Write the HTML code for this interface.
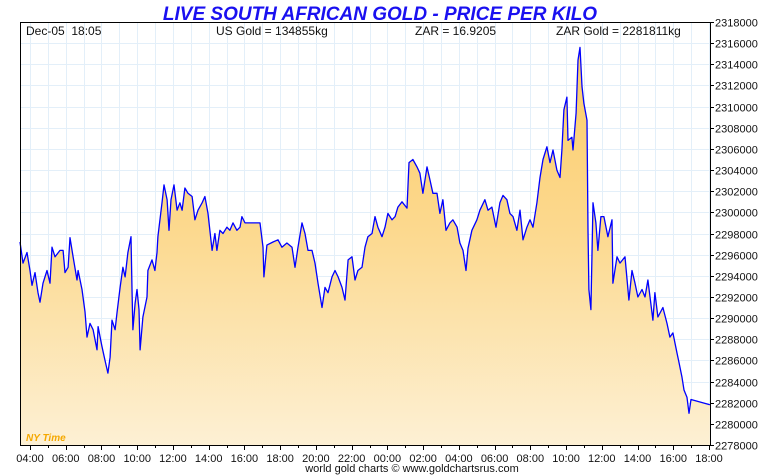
<!DOCTYPE html>
<html><head><meta charset="utf-8"><style>
html,body{margin:0;padding:0;background:#fff;}
svg{display:block;font-family:"Liberation Sans",sans-serif;}
</style></head><body>
<svg id="chart" width="760" height="475" viewBox="0 0 760 475" xmlns="http://www.w3.org/2000/svg">
<defs>
<linearGradient id="fillGrad" gradientUnits="userSpaceOnUse" x1="0" y1="60" x2="0" y2="445">
<stop offset="0" stop-color="#fbcd6c"/>
<stop offset="0.45" stop-color="#fcd98f"/>
<stop offset="1" stop-color="#fdf0d4"/>
</linearGradient>
</defs>
<text x="380" y="20" text-anchor="middle" font-size="19" font-weight="bold" font-style="italic" fill="#1a10f0">LIVE SOUTH AFRICAN GOLD - PRICE PER KILO</text>
<g id="grid"></g>
<path id="area" fill="url(#fillGrad)"/>
<path id="line" fill="none" stroke="#0000ff" stroke-width="1.3" stroke-linejoin="round"/>
<rect x="20.5" y="22.5" width="690" height="423" fill="none" stroke="#000" stroke-width="1"/>
<g id="axes"></g>
<text x="26" y="35" font-size="12" fill="#111">Dec-05&#160;&#160;18:05</text>
<text x="216" y="35" font-size="12" fill="#111">US Gold = 134855kg</text>
<text x="415" y="35" font-size="12" fill="#111">ZAR = 16.9205</text>
<text x="556" y="35" font-size="12" fill="#111">ZAR Gold = 2281811kg</text>
<text x="26" y="441" font-size="10" font-style="italic" font-weight="bold" fill="#f5a800">NY Time</text>
<text x="412" y="472" text-anchor="middle" font-size="11" fill="#111">world gold charts © www.goldchartsrus.com</text>
</svg>
<script>
// hours since 04:00 (day 1)
const hours = [-0.56,-0.39,-0.17,0,0.11,0.28,0.45,0.56,0.73,0.95,1.12,1.23,1.40,1.68,1.85,1.96,2.13,2.24,2.41,2.63,2.69,2.91,3.08,3.19,3.36,3.53,3.75,3.81,4.03,4.20,4.36,4.48,4.59,4.76,4.87,5.04,5.20,5.32,5.48,5.65,5.71,5.76,5.88,5.99,6.10,6.16,6.32,6.55,6.60,6.83,6.99,7.11,7.16,7.39,7.50,7.67,7.78,7.89,8.06,8.23,8.39,8.51,8.67,8.84,9.07,9.23,9.40,9.63,9.79,9.96,10.19,10.35,10.46,10.63,10.80,11.02,11.19,11.36,11.58,11.75,11.86,12.03,12.31,12.59,12.87,13.04,13.09,13.26,13.60,13.88,14.10,14.38,14.66,14.83,15.00,15.22,15.39,15.56,15.78,15.95,16.12,16.34,16.51,16.68,16.90,17.07,17.24,17.46,17.63,17.80,18.02,18.19,18.35,18.58,18.75,18.91,19.14,19.31,19.47,19.70,19.87,20.03,20.26,20.43,20.59,20.82,21.10,21.21,21.43,21.66,21.82,21.99,22.22,22.38,22.55,22.78,22.94,23.11,23.28,23.50,23.67,23.90,24.06,24.23,24.40,24.51,24.73,25.01,25.18,25.46,25.63,25.85,26.08,26.30,26.47,26.69,26.86,27.03,27.25,27.42,27.59,27.81,27.98,28.15,28.37,28.54,28.71,28.93,29.10,29.27,29.49,29.66,29.77,29.88,30.05,30.11,30.33,30.39,30.56,30.67,30.78,30.89,31.00,31.17,31.23,31.28,31.39,31.51,31.67,31.78,31.95,32.12,32.34,32.57,32.62,32.85,33.02,33.30,33.52,33.69,33.86,34.02,34.25,34.42,34.58,34.86,34.97,35.14,35.42,35.65,35.81,35.98,36.21,36.32,36.49,36.60,36.77,36.88,36.99,38.05];
// price in thousands ZAR per kilo
const prices = [2297.2,2295.2,2296.2,2294.5,2293.1,2294.3,2292.4,2291.5,2293.3,2294.5,2293.3,2296.7,2295.8,2296.4,2296.4,2294.3,2294.8,2297.6,2295.8,2293.6,2294.5,2292.7,2290.6,2288.2,2289.5,2288.9,2287.0,2289.2,2287.3,2286.0,2284.8,2286.3,2289.8,2288.9,2290.5,2292.9,2294.8,2293.9,2296.2,2297.7,2292.7,2288.9,2291.4,2292.7,2290.8,2287.0,2290.1,2292.0,2294.5,2295.5,2294.5,2296.2,2297.7,2300.9,2302.6,2301.2,2298.3,2301.2,2302.6,2300.2,2300.9,2300.2,2302.3,2301.8,2301.5,2299.3,2300.2,2300.9,2301.5,2299.9,2296.4,2298.0,2296.4,2298.3,2298.0,2298.6,2298.3,2299.0,2298.3,2298.6,2299.6,2299.0,2299.0,2299.0,2299.0,2296.7,2293.9,2296.9,2297.2,2297.4,2296.7,2297.1,2296.7,2294.8,2296.7,2299.0,2298.0,2296.4,2296.4,2295.2,2293.3,2291.0,2292.9,2292.4,2293.9,2294.5,2293.9,2292.9,2291.7,2295.5,2295.8,2293.6,2294.5,2294.8,2296.7,2297.7,2298.0,2299.6,2298.6,2297.7,2298.6,2299.9,2299.3,2299.6,2300.5,2301.0,2300.4,2304.7,2305.0,2304.3,2303.7,2301.8,2304.3,2303.1,2301.8,2301.8,2299.9,2301.2,2298.3,2299.0,2299.3,2298.6,2297.1,2296.4,2294.5,2296.6,2298.3,2299.3,2300.2,2301.2,2300.2,2300.5,2298.6,2300.9,2301.6,2301.2,2299.9,2299.6,2298.3,2300.2,2297.4,2298.6,2299.3,2298.6,2300.9,2303.3,2305.0,2306.2,2304.7,2305.9,2304.0,2303.3,2305.9,2309.7,2310.9,2306.8,2307.1,2305.9,2309.4,2314.4,2315.6,2311.9,2310.3,2308.7,2298.3,2292.7,2290.8,2300.9,2299.0,2296.4,2299.6,2299.6,2297.7,2299.3,2293.3,2295.8,2295.2,2295.8,2291.7,2294.5,2293.3,2292.0,2292.7,2292.0,2293.6,2289.8,2292.4,2290.1,2291.0,2289.5,2288.2,2288.6,2286.7,2285.8,2284.4,2283.2,2282.5,2281.0,2282.3,2281.8];
const yTickValues = [2278,2280,2282,2284,2286,2288,2290,2292,2294,2296,2298,2300,2302,2304,2306,2308,2310,2312,2314,2316,2318];
const xTickLabels = ["04:00","06:00","08:00","10:00","12:00","14:00","16:00","18:00","20:00","22:00","00:00","02:00","04:00","06:00","08:00","10:00","12:00","14:00","16:00","18:00"];

const L=20,R=710,T=22,B=445;
const yMin=2278,yMax=2318;
const hrPx=(709-30)/38;
function xs(h){return 30+h*hrPx;}
function ys(v){return B-(v-yMin)/(yMax-yMin)*(B-T);}
const NS="http://www.w3.org/2000/svg";
const grid=document.getElementById('grid');
const axes=document.getElementById('axes');
function mk(tag,attrs,parent){const e=document.createElementNS(NS,tag);for(const k in attrs)e.setAttribute(k,attrs[k]);parent.appendChild(e);return e;}

for(let h=0;h<=38;h++){
  const x=Math.round(xs(h))+0.5;
  const g=mk('line',{x1:x,x2:x,y1:T,y2:B,stroke:'#e3eff9','stroke-width':1},grid);
  
  
  const t=mk('line',{x1:x,x2:x,y1:B,y2:B+(h%2===0?5:3),stroke:'#000','stroke-width':1},axes);
  
  
}
yTickValues.forEach(v=>{
  const y=Math.round(ys(v))+0.5;
  const g=mk('line',{x1:L,x2:R,y1:y,y2:y,stroke:'#e3eff9','stroke-width':1},grid);
  
  
  const t=mk('line',{x1:R,x2:R+4,y1:y,y2:y,stroke:'#000','stroke-width':1},axes);
  
  
  const lb=mk('text',{x:R+5,y:y+4,'font-size':11,fill:'#111'},axes);
  lb.textContent=Math.round(v*1000);
  
  
});
xTickLabels.forEach((s,i)=>{
  const lb=mk('text',{x:xs(i*2),y:462,'text-anchor':'middle','font-size':11,fill:'#111'},axes);
  lb.textContent=s;
  
  
});

let d='';
hours.forEach((h,i)=>{
  const x=Math.max(L,Math.min(R,xs(h)));
  d+=(i?'L':'M')+x.toFixed(1)+' '+ys(prices[i]).toFixed(1)+' ';
});
document.getElementById('line').setAttribute('d',d);
const x0=Math.max(L,xs(hours[0])), x1=Math.min(R,xs(hours[hours.length-1]));
document.getElementById('area').setAttribute('d',d+'L'+x1+' '+B+' L'+x0+' '+B+' Z');
</script>
</body></html>
